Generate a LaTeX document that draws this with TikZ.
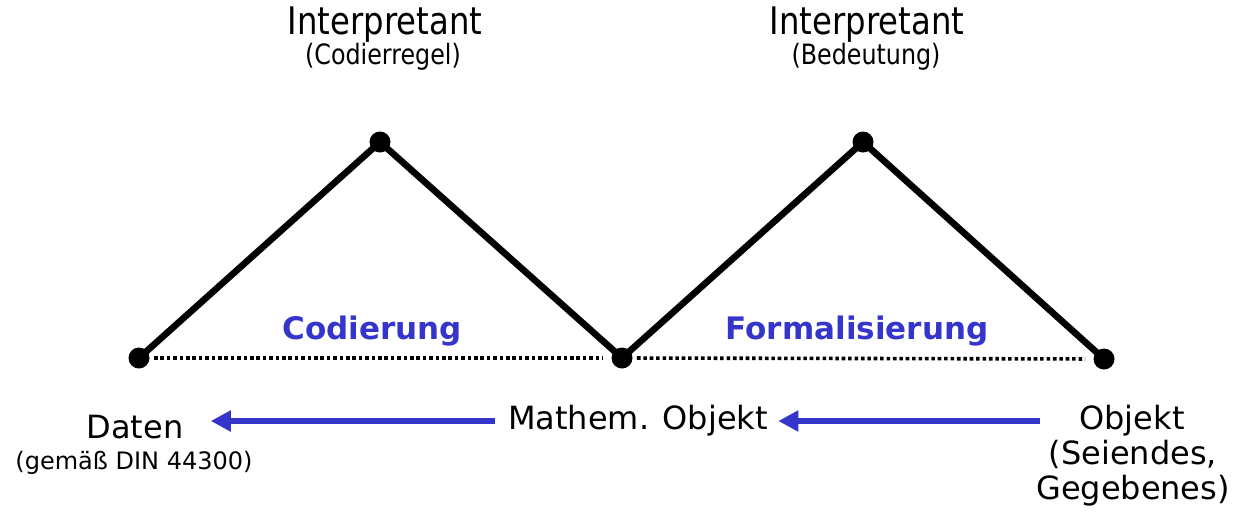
\documentclass[tikz,border=0pt]{standalone}
\usepackage{fontspec}
\setmainfont{DejaVu Sans}
\newfontfamily\condfont[FakeStretch=0.85]{DejaVu Sans}
\usetikzlibrary{arrows.meta}
\definecolor{myblue}{HTML}{3535CC}
\tikzset{
  vertex/.style={circle,fill=black,inner sep=0pt,minimum size=10.5pt},
  edge/.style={line width=3.3pt,line cap=round},
  dotline/.style={line width=1.8pt,dash pattern=on 1.8pt off 1.4pt,shorten <=2pt,shorten >=4pt},
  bluearrow/.style={myblue,line width=2.6pt,-{Triangle[length=10pt,width=10pt]}},
  biglabel/.style={inner sep=0pt,font=\fontsize{16pt}{17.5pt}\selectfont,align=center},
  smalllabel/.style={inner sep=0pt,font=\fontsize{12pt}{14pt}\selectfont},
  toplabel/.style={inner sep=0pt,font=\condfont\fontsize{19pt}{21pt}\selectfont},
  topsub/.style={inner sep=0pt,font=\condfont\fontsize{14pt}{16pt}\selectfont},
  proclabel/.style={inner sep=0pt,text=myblue,font=\bfseries\fontsize{15.5pt}{17pt}\selectfont}
}
\begin{document}
\begin{tikzpicture}[x=0.5pt,y=-0.5pt]
\useasboundingbox (0,0) rectangle (1237,515);
% vertices
\node[vertex] (d1) at (139,358) {};
\node[vertex] (a1) at (380,142) {};
\node[vertex] (d2) at (622,358) {};
\node[vertex] (a2) at (863,142) {};
\node[vertex] (d3) at (1104,359) {};
% triangle edges
\draw[edge] (d1.center) -- (a1.center) -- (d2.center) -- (a2.center) -- (d3.center);
% dotted base lines
\draw[dotline] (d1) -- (d2);
\draw[dotline] (d2) -- (d3);
% top labels
\node[toplabel] (i1) at (385,25) {Interpretant};
\node[topsub] (i1s) at (383,57) {(Codierregel)};
\node[toplabel] (i2) at (867,25) {Interpretant};
\node[topsub] (i2s) at (866,57) {(Bedeutung)};
% process labels
\node[proclabel] (cod) at (372,331) {Codierung};
\node[proclabel] (form) at (857,331) {Formalisierung};
% bottom labels
\node[biglabel] (daten) at (135,427) {Daten};
\node[smalllabel] (datens) at (134,463) {(gemäß DIN 44300)};
\node[biglabel] (math) at (638,421) {Mathem. Objekt};
\node[biglabel] (obj) at (1132,421) {Objekt};
\node[biglabel,anchor=north] (objs) at (1133,440) {(Seiendes,\\Gegebenes)};
% arrows
\draw[bluearrow,shorten <=6.5pt,shorten >=13.5pt] (math.west) -- (daten.east |- math.west);
\draw[bluearrow,shorten <=19.5pt,shorten >=5pt] (obj.west) -- (math.east);
\end{tikzpicture}
\end{document}
